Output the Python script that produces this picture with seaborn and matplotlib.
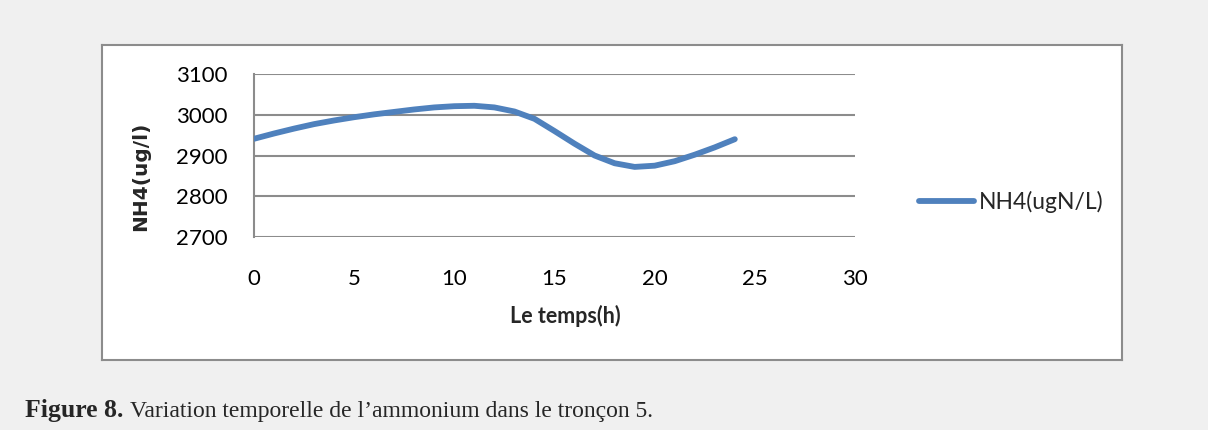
import matplotlib
matplotlib.use("Agg")
import matplotlib.pyplot as plt
import pandas as pd
import seaborn as sns

# values, hourly
hours = [0, 1, 2, 3, 4, 5, 6, 7, 8, 9, 10, 11, 12,
         13, 14, 15, 16, 17, 18, 19, 20, 21, 22, 23, 24]
nh4 = [2941, 2954, 2966, 2977, 2986, 2994, 3001, 3007, 3013, 3018, 3021, 3022, 3018,
       3008, 2990, 2960, 2929, 2900, 2881, 2872, 2875, 2886, 2902, 2920, 2940]
series_name = 'NH4(ugN/L)'
x_ticks = [0, 5, 10, 15, 20, 25, 30]
y_ticks = [2700, 2800, 2900, 3000, 3100]

df = pd.DataFrame({'hour': hours, 'value': nh4, 'serie': series_name})

sns.set_style('white')
plt.rcParams['font.family'] = ['Lato', 'DejaVu Sans']

W, H = 1208, 430
fig = plt.figure(figsize=(W / 100, H / 100), dpi=100, facecolor='#f0f0f0')

# white chart frame (background axes)
frame = fig.add_axes([102 / W, 1 - 360 / H, (1122 - 102) / W, (360 - 45) / H])
frame.set_facecolor('white')
frame.set_xticks([])
frame.set_yticks([])
for s in frame.spines.values():
    s.set_color('#8c8c8c')
    s.set_linewidth(1.5)

ax = fig.add_axes([254 / W, 1 - 237 / H, 601 / W, 163 / H])
ax.set_facecolor('white')

sns.lineplot(data=df, x='hour', y='value', hue='serie', palette=['#4f81bd'],
             linewidth=4.2, ax=ax, solid_capstyle='round', solid_joinstyle='round',
             zorder=3)

ax.set_xlim(0, 30)
ax.set_ylim(2700, 3100)
ax.set_xticks(x_ticks)
ax.set_yticks(y_ticks)
ax.tick_params(axis='both', length=0, labelsize=16, colors='black')
ax.tick_params(axis='x', pad=23)
ax.tick_params(axis='y', pad=19)
ax.yaxis.grid(True, color='#8c8c8c', linewidth=1.5)
ax.xaxis.grid(False)
for side in ['top', 'right', 'bottom']:
    ax.spines[side].set_visible(False)
ax.spines['left'].set_color('#8c8c8c')
ax.spines['left'].set_linewidth(1.5)

ax.set_xlabel('Le temps(h)', fontsize=15.5, fontweight='bold')
ax.xaxis.set_label_coords((565 - 254) / 601, (237 - 316) / 163)
ax.set_ylabel('NH4(ug/l)', fontsize=14.5, fontweight='bold', family='DejaVu Sans')
ax.yaxis.set_label_coords((141 - 254) / 601, (237 - 176) / 163)
ax.yaxis.label.set_va('center')
ax.xaxis.label.set_va('center')

ax.legend(loc='center left', bbox_to_anchor=(1.088, 0.215), frameon=False,
          fontsize=16.5, handlelength=2.4, handletextpad=0.2, borderpad=0)

fig.text(25 / W, 1 - 411 / H, 'Figure 8.', family='Liberation Serif',
         fontweight='bold', fontsize=18.5, va='center', ha='left')
fig.text(130 / W, 1 - 411 / H,
         'Variation temporelle de l\u2019ammonium dans le tron\u00e7on 5.',
         family='Liberation Serif', fontsize=17, va='center', ha='left')

fig.savefig('out.png', dpi=100, facecolor=fig.get_facecolor())
